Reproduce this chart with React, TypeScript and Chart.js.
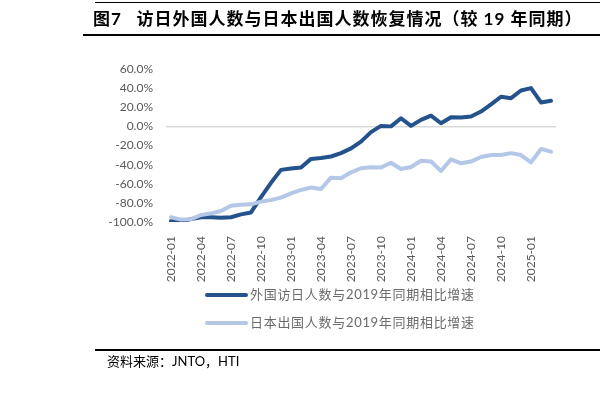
import React, { useEffect, useRef } from 'react';
import { Chart, registerables } from 'chart.js';
Chart.register(...registerables);

const months = [
  '2022-01','2022-02','2022-03','2022-04','2022-05','2022-06','2022-07','2022-08','2022-09','2022-10','2022-11','2022-12',
  '2023-01','2023-02','2023-03','2023-04','2023-05','2023-06','2023-07','2023-08','2023-09','2023-10','2023-11','2023-12',
  '2024-01','2024-02','2024-03','2024-04','2024-05','2024-06','2024-07','2024-08','2024-09','2024-10','2024-11','2024-12',
  '2025-01','2025-02','2025-03',
];

const inbound = [
  -99, -99.5, -97, -95, -95, -95.5, -95, -92, -90, -74, -59, -45.5,
  -44, -43, -34, -33, -31.5, -28, -23, -16, -6, 0.5, 0, 8.5,
  0.5, 6.8, 11.3, 3.3, 9.6, 9.2, 10.3, 15.5, 23, 31, 29.5, 37.5,
  40, 25, 26.7,
];

const outbound = [
  -95, -97.5, -97, -92.7, -91, -88.5, -83, -82, -81.5, -78.7, -77, -74.5,
  -70, -66.5, -64, -65.5, -53.6, -54.3, -48, -43.8, -42.8, -43, -38, -44.5,
  -42.4, -36, -36.8, -46.6, -34.4, -38.6, -36.8, -32, -30, -30, -28, -30,
  -37.6, -23.6, -26.4,
];

const seriesNames = ['外国访日人数与2019年同期相比增速', '日本出国人数与2019年同期相比增速'];
const seriesColors = ['#24528C', '#B4C7E7'];

const titleText = '图7\u2002 访日外国人数与日本出国人数恢复情况（较 19 年同期）';
const sourceText = '资料来源：JNTO，HTI';

const FONT = "Lato, 'Noto Sans CJK SC', sans-serif";

const legendPlugin = {
  id: 'customLegend',
  afterDraw(chart: any) {
    const ctx = chart.ctx;
    ctx.save();
    const rows = [295, 323];
    seriesNames.forEach((name, i) => {
      const y = rows[i];
      ctx.strokeStyle = seriesColors[i];
      ctx.lineWidth = 4;
      ctx.lineCap = 'round';
      ctx.beginPath();
      ctx.moveTo(207, y);
      ctx.lineTo(246, y);
      ctx.stroke();
      ctx.fillStyle = '#6B6B6B';
      ctx.font = `13px ${FONT}`;
      ctx.textBaseline = 'middle';
      ctx.textAlign = 'left';
      (ctx as any).letterSpacing = '0.7px';
      ctx.fillText(name, 250, y);
    });
    ctx.restore();
  },
};

function ChartView() {
  const ref = useRef<HTMLCanvasElement>(null);
  useEffect(() => {
    if (!ref.current) return;
    const chart = new Chart(ref.current, {
      type: 'line',
      data: {
        labels: months,
        datasets: [
          {
            label: seriesNames[1],
            data: outbound,
            borderColor: seriesColors[1],
            backgroundColor: seriesColors[1],
            borderWidth: 4,
            pointRadius: 0,
            tension: 0,
            borderJoinStyle: 'round',
            borderCapStyle: 'round',
          },
          {
            label: seriesNames[0],
            data: inbound,
            borderColor: seriesColors[0],
            backgroundColor: seriesColors[0],
            borderWidth: 4,
            pointRadius: 0,
            tension: 0,
            borderJoinStyle: 'round',
            borderCapStyle: 'round',
          },
        ] as any,
      },
      options: {
        responsive: false,
        animation: false,
        layout: { padding: { top: 69, right: 44, bottom: 0, left: 0 } },
        plugins: {
          legend: { display: false },
          tooltip: { enabled: false },
        },
        scales: {
          x: {
            offset: true,
            grid: { display: false },
            border: { display: false },
            afterFit: (s: any) => { s.height = 399 - 222; },
            ticks: {
              autoSkip: false,
              maxRotation: 90,
              minRotation: 90,
              padding: 6,
              color: '#595959',
              font: { family: FONT, size: 12 },
              callback: (_v: any, i: number) => (i % 3 === 0 ? months[i] : ''),
            },
          },
          y: {
            min: -100,
            max: 60,
            afterFit: (s: any) => { s.width = 166; },
            border: { display: false },
            grid: {
              drawTicks: false,
              lineWidth: 1.5,
              color: (c: any) => (c.tick && c.tick.value === 0 ? '#D9D9D9' : 'rgba(0,0,0,0)'),
            },
            ticks: {
              stepSize: 20,
              padding: 13,
              color: '#595959',
              font: { family: FONT, size: 12 },
              callback: (v: any) => Number(v).toFixed(1) + '%',
            },
          },
        },
      },
      plugins: [legendPlugin],
    });
    return () => chart.destroy();
  }, []);
  return <canvas ref={ref} width={600} height={399} style={{ position: 'absolute', left: 0, top: 0 }} />;
}

export default function App() {
  return (
    <div style={{ position: 'fixed', left: 0, top: 0, width: 600, height: 399, background: '#fff', overflow: 'hidden' }}>
      <ChartView />
      <div style={{ position: 'absolute', left: 95, top: 2, width: 505, height: 1, background: '#000' }} />
      <div
        style={{
          position: 'absolute', left: 93, top: 7, whiteSpace: 'nowrap',
          fontFamily: FONT, fontWeight: 'bold', fontSize: 17, lineHeight: '24px', color: '#000', letterSpacing: '1px',
        }}
      >
        {titleText}
      </div>
      <div style={{ position: 'absolute', left: 83, top: 34, width: 517, height: 1.5, background: '#000' }} />
      <div style={{ position: 'absolute', left: 95, top: 349, width: 505, height: 1.5, background: '#000' }} />
      <div
        style={{
          position: 'absolute', left: 107, top: 352, whiteSpace: 'nowrap',
          fontFamily: FONT, fontSize: 13, lineHeight: '18px', color: '#000',
        }}
      >
        {sourceText}
      </div>
    </div>
  );
}
